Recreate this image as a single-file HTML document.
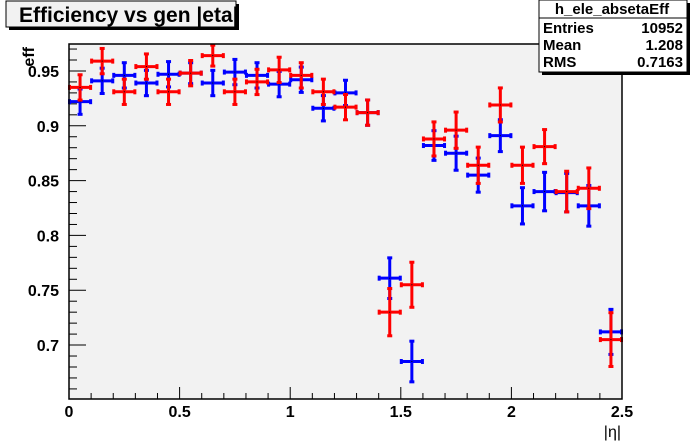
<!DOCTYPE html>
<html><head><meta charset="utf-8"><style>
body{margin:0;background:#fff;}
svg{display:block;font-family:"Liberation Sans",Arial,sans-serif;}
</style></head><body>
<svg id="c" width="692" height="444" viewBox="0 0 692 444">
  <rect x="69" y="44" width="553" height="355" fill="#f2f2f2"/>
  <g id="ticks"></g>
  <g id="marks"></g>
  <rect x="69" y="44" width="553" height="355" fill="none" stroke="#000" stroke-width="1.5"/>
  <text x="621" y="437" font-size="16" text-anchor="end">|η|</text>
  <text transform="translate(34,47) rotate(-90)" font-size="16" font-weight="bold" text-anchor="end">eff</text>
  <g>
    <rect x="9" y="4" width="230" height="26" fill="#000"/>
    <rect x="6" y="1" width="230" height="26" fill="#f2f2f2" stroke="#000" stroke-width="1"/>
    <text x="19" y="22" font-size="21" font-weight="bold">Efficiency vs gen |eta|</text>
  </g>
  <g>
    <rect x="542" y="3" width="148" height="72" fill="#000"/>
    <rect x="539" y="0" width="148" height="72" fill="#fff" stroke="#000" stroke-width="1"/>
    <line x1="539" y1="18" x2="687" y2="18" stroke="#000"/>
    <text x="612" y="14" font-size="15" font-weight="bold" text-anchor="middle">h_ele_absetaEff</text>
    <text x="543" y="33" font-size="15" font-weight="bold">Entries</text>
    <text x="683" y="33" font-size="15" font-weight="bold" text-anchor="end">10952</text>
    <text x="543" y="50" font-size="15" font-weight="bold">Mean</text>
    <text x="683" y="50" font-size="15" font-weight="bold" text-anchor="end">1.208</text>
    <text x="543" y="67" font-size="15" font-weight="bold">RMS</text>
    <text x="683" y="67" font-size="15" font-weight="bold" text-anchor="end">0.7163</text>
  </g>
</svg>
<script>
const binCenters=[0.05,0.15,0.25,0.35,0.45,0.55,0.65,0.75,0.85,0.95,1.05,1.15,1.25,1.35,1.45,1.55,1.65,1.75,1.85,1.95,2.05,2.15,2.25,2.35,2.45];
const redValues=[0.935,0.959,0.931,0.954,0.931,0.948,0.964,0.931,0.940,0.951,0.946,0.931,0.917,0.912,0.730,0.755,0.888,0.896,0.864,0.919,0.864,0.881,0.840,0.843,0.705];
const redErrors=[0.012,0.012,0.012,0.012,0.012,0.012,0.010,0.012,0.012,0.012,0.012,0.012,0.012,0.012,0.022,0.021,0.016,0.017,0.017,0.016,0.017,0.016,0.019,0.019,0.025];
const blueValues=[0.922,0.941,0.946,0.939,0.947,0.948,0.939,0.949,0.946,0.938,0.942,0.916,0.930,0.912,0.761,0.685,0.882,0.875,0.855,0.891,0.827,0.840,0.839,0.827,0.712];
const blueErrors=[0.012,0.012,0.012,0.012,0.012,0.010,0.012,0.012,0.012,0.012,0.012,0.012,0.012,0.012,0.019,0.019,0.014,0.016,0.016,0.015,0.017,0.018,0.018,0.019,0.021];
const binHalfWidth=0.05;
const xTickLabels=["0","0.5","1","1.5","2","2.5"];
const yTickLabels=["0.7","0.75","0.8","0.85","0.9","0.95"];

const X0=69,X1=622,Y0=399,Y1=44,XMIN=0,XMAX=2.5,YMIN=0.6508,YMAX=0.9746;
const NS="http://www.w3.org/2000/svg";
function xs(v){return X0+(v-XMIN)/(XMAX-XMIN)*(X1-X0);}
function ys(v){return Y0-(v-YMIN)/(YMAX-YMIN)*(Y0-Y1);}
function mk(tag,attrs,parent){const e=document.createElementNS(NS,tag);for(const k in attrs)e.setAttribute(k,attrs[k]);parent.appendChild(e);return e;}
const tg=document.getElementById('ticks');
for(let i=0;i<=25;i++){
  const v=i*0.1;const major=i%5===0;const x=xs(v);
  const t=mk('line',{x1:x,x2:x,y1:Y0,y2:Y0-(major?12:6),stroke:'#000'},tg);
  
  
}
xTickLabels.forEach(s=>{
  const t=mk('text',{x:xs(parseFloat(s)),y:417,'font-size':16,'font-weight':'bold','text-anchor':'middle'},tg);
  t.textContent=s;
  
  
});
for(let i=66;i<=97;i++){
  const v=i/100;const major=i%5===0;const y=ys(v);
  if(y<Y1||y>Y0)continue;
  const t=mk('line',{x1:X0,x2:X0+(major?17:8),y1:y,y2:y,stroke:'#000'},tg);
  
  
}
yTickLabels.forEach(s=>{
  const t=mk('text',{x:X0-10,y:ys(parseFloat(s))+6,'font-size':16,'font-weight':'bold','text-anchor':'end'},tg);
  t.textContent=s;
  
  
});
const mg=document.getElementById('marks');
function series(vals,errs,color,name){
  const g=mk('g',{},mg);
  
  
  vals.forEach((v,i)=>{
    const c=binCenters[i];
    const xl=xs(c-binHalfWidth),xr=xs(c+binHalfWidth),xc=xs(c);
    const yc=ys(v),yt=ys(v+errs[i]),yb=ys(v-errs[i]);
    const p=mk('g',{},g);
    
    
    mk('line',{x1:xl,x2:xr,y1:yc,y2:yc,stroke:color,'stroke-width':3},p);
    mk('line',{x1:xc,x2:xc,y1:yt,y2:yb,stroke:color,'stroke-width':3},p);
    mk('rect',{x:xl-1,y:yc-2.5,width:3,height:5,fill:color},p);
    mk('rect',{x:xr-2,y:yc-2.5,width:3,height:5,fill:color},p);
    mk('rect',{x:xc-2.5,y:yt-1,width:5,height:3,fill:color},p);
    mk('rect',{x:xc-2.5,y:yb-2,width:5,height:3,fill:color},p);
    mk('rect',{x:xc-0.5,y:yc-0.5,width:1,height:1,fill:'#000'},p);
  });
}
series(blueValues,blueErrors,'#0000ff','blue');
series(redValues,redErrors,'#ff0000','red');
</script>
</body></html>
